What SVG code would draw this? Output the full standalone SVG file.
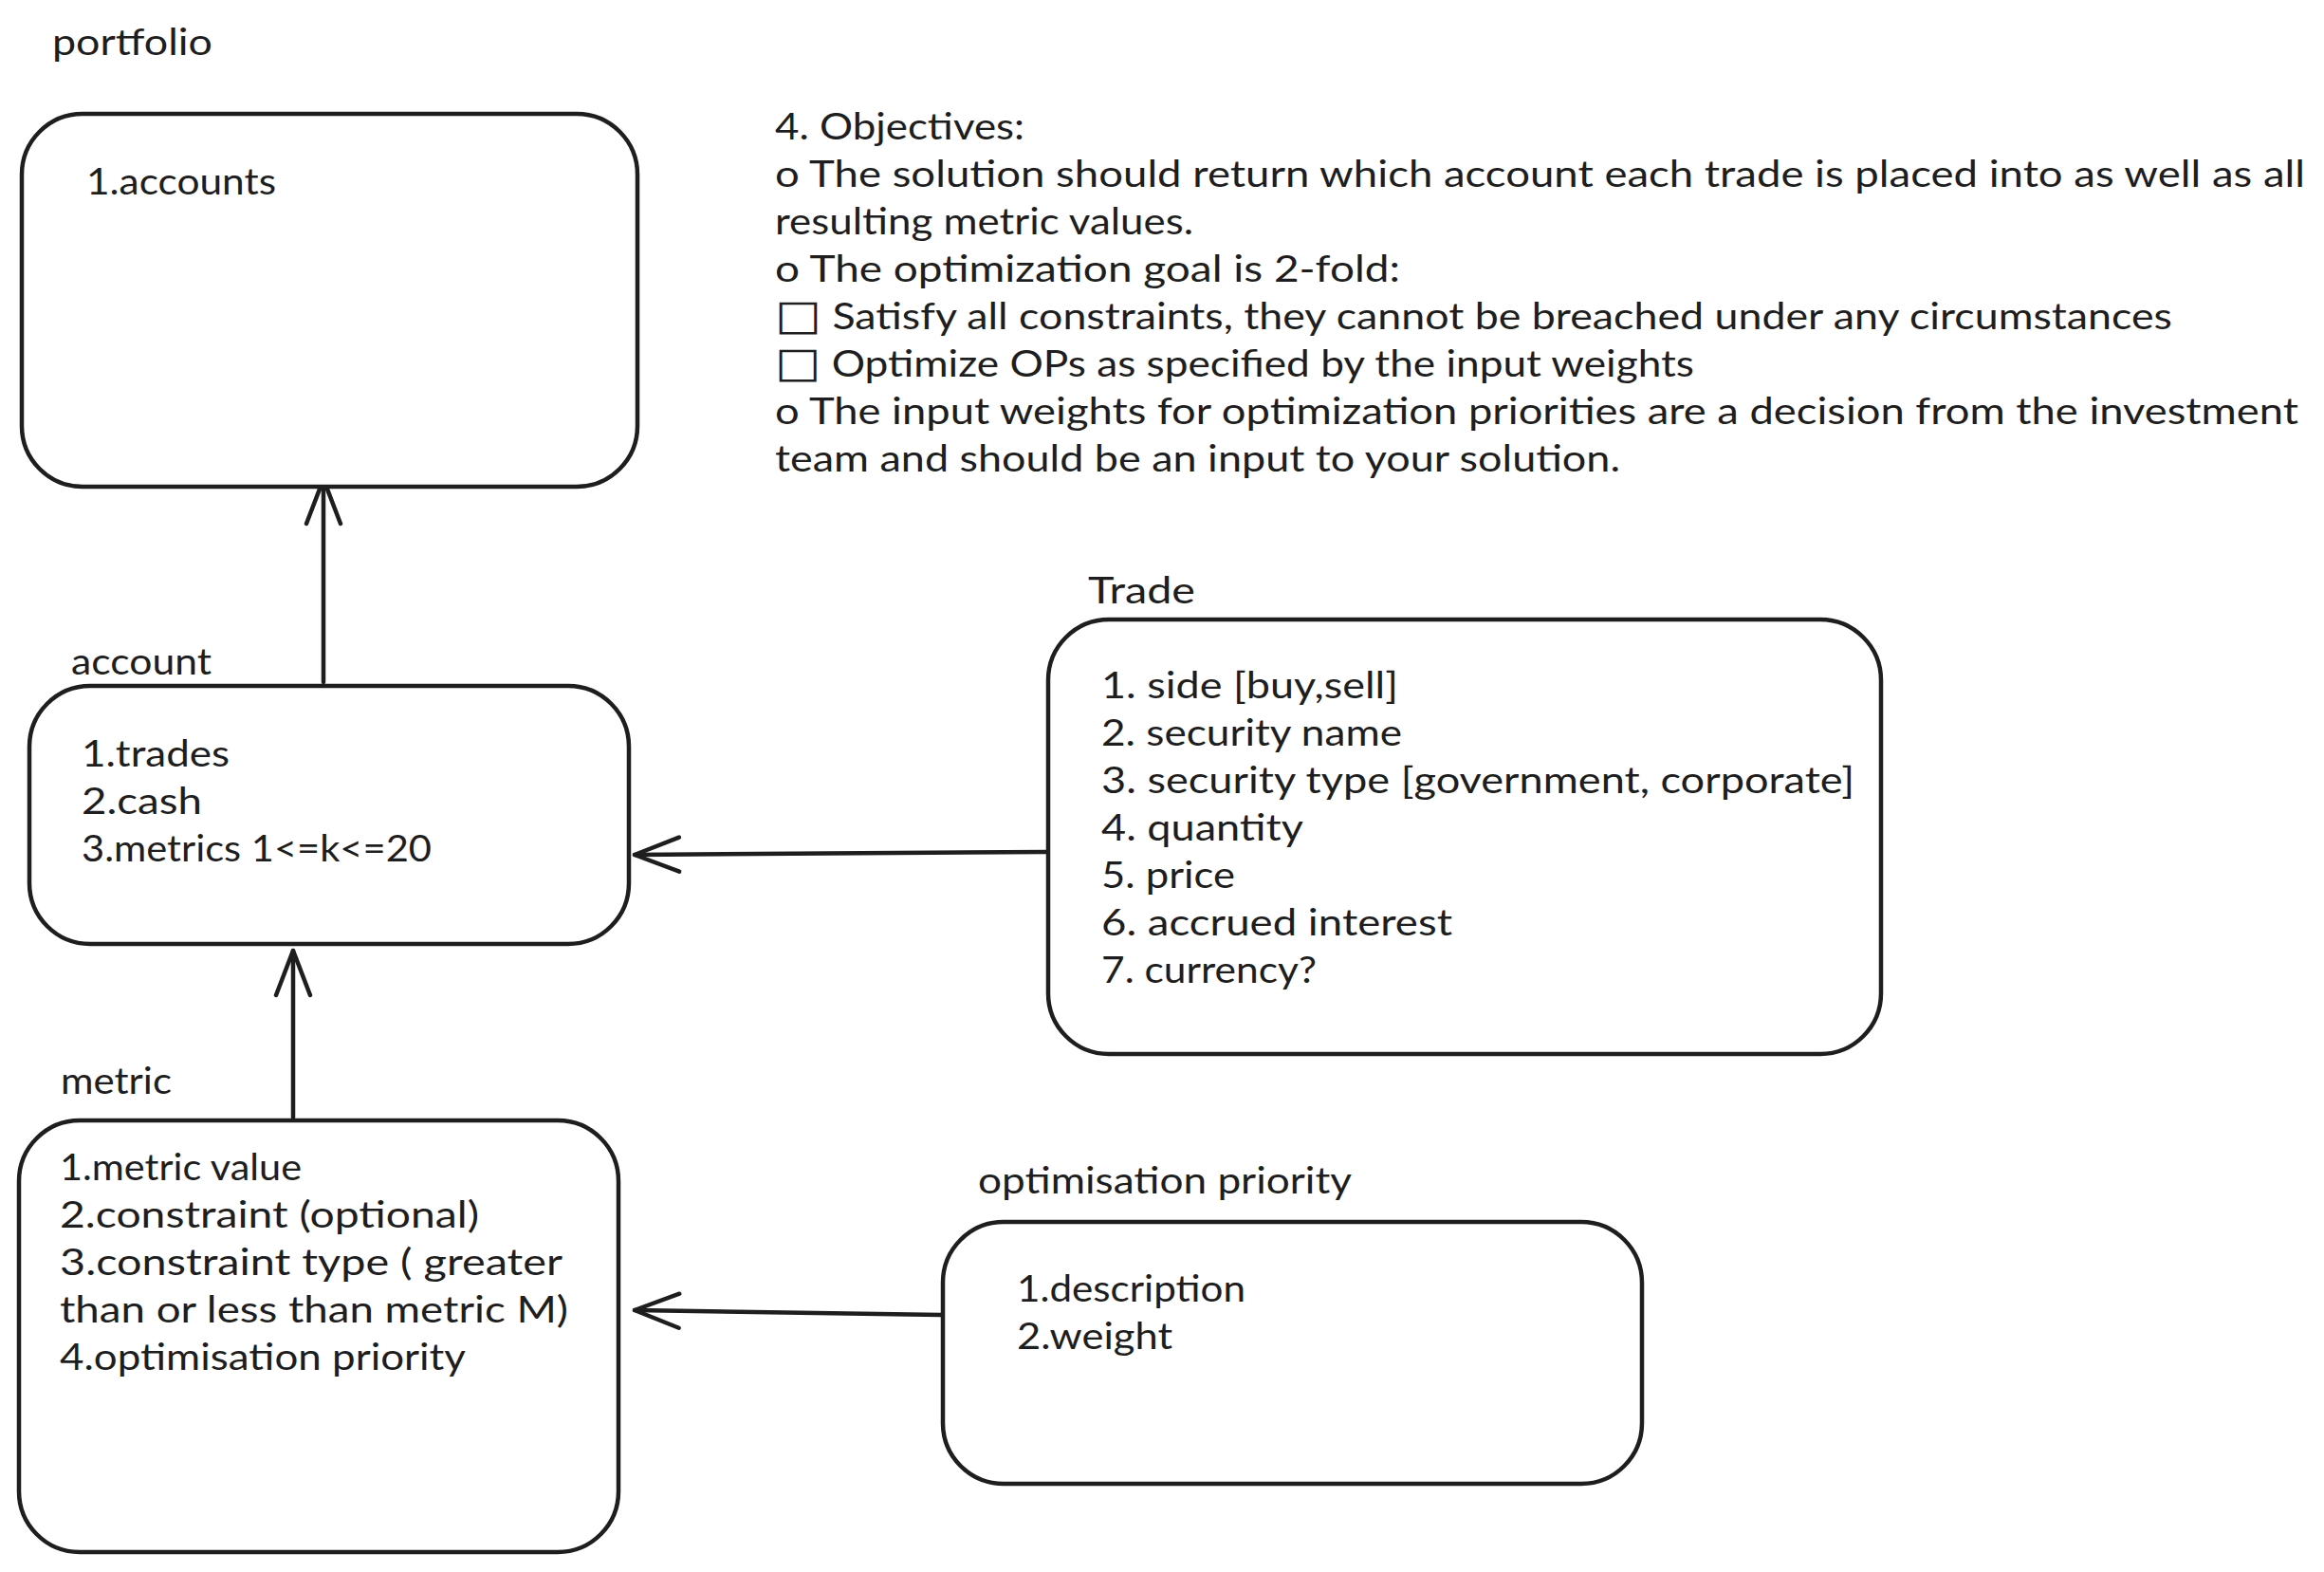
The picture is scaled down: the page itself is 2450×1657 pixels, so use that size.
<svg xmlns="http://www.w3.org/2000/svg" width="2450" height="1657" viewBox="0 0 2450 1657">
  <style>
    .box { fill: #ffffff; stroke: #1e1e1e; stroke-width: 4.5; }
    .t { font-family: "Lato", "Noto Sans", "Liberation Sans", sans-serif; font-size: 38px; fill: #1e1e1e; }
    .sq { font-family: "DejaVu Sans", sans-serif; font-size: 44px; }
    .edge { fill: none; stroke: #1e1e1e; stroke-width: 4.5; stroke-linecap: round; marker-end: url(#open); }
  </style>
  <defs>
    <marker id="open" markerUnits="userSpaceOnUse" orient="auto" refX="0" refY="0" markerWidth="60" markerHeight="60" viewBox="-50 -25 60 50" overflow="visible">
      <path d="M -47 -18 L 0 0 L -47 18" fill="none" stroke="#1e1e1e" stroke-width="4.5" stroke-linecap="round" stroke-linejoin="round"/>
    </marker>
  </defs>
  <rect width="2450" height="1657" fill="#ffffff"/>

  <!-- free-standing notes -->
  <g id="objectives">
    <text class="t" x="817" y="147" textLength="263" lengthAdjust="spacingAndGlyphs">4. Objectives:</text>
    <text class="t" x="817" y="197" textLength="1613" lengthAdjust="spacingAndGlyphs">o The solution should return which account each trade is placed into as well as all</text>
    <text class="t" x="817" y="247" textLength="441" lengthAdjust="spacingAndGlyphs">resulting metric values.</text>
    <text class="t" x="817" y="297" textLength="659" lengthAdjust="spacingAndGlyphs">o The optimization goal is 2-fold:</text>
    <text class="t" x="817" y="347" textLength="1473" lengthAdjust="spacingAndGlyphs"><tspan class="sq">□</tspan> Satisfy all constraints, they cannot be breached under any circumstances</text>
    <text class="t" x="817" y="397" textLength="969" lengthAdjust="spacingAndGlyphs"><tspan class="sq">□</tspan> Optimize OPs as specified by the input weights</text>
    <text class="t" x="817" y="447" textLength="1606" lengthAdjust="spacingAndGlyphs">o The input weights for optimization priorities are a decision from the investment</text>
    <text class="t" x="817" y="497" textLength="891" lengthAdjust="spacingAndGlyphs">team and should be an input to your solution.</text>
  </g>

  <!-- connectors -->
  <g id="connectors">
    <path class="edge" d="M 341 719 L 341 505"/>
    <path class="edge" d="M 1103 898 L 669 901"/>
    <path class="edge" d="M 309 1178 L 309 1002"/>
    <path class="edge" d="M 992 1386 L 669 1381"/>
  </g>

  <!-- entities -->
  <g id="portfolio">
    <text class="t" x="55" y="58" textLength="169" lengthAdjust="spacingAndGlyphs">portfolio</text>
    <rect class="box" x="23" y="120" width="649" height="393" rx="64"/>
    <text class="t" x="91" y="205" textLength="200" lengthAdjust="spacingAndGlyphs">1.accounts</text>
  </g>

  <g id="account">
    <text class="t" x="75" y="711" textLength="148" lengthAdjust="spacingAndGlyphs">account</text>
    <rect class="box" x="31" y="723" width="632" height="272" rx="64"/>
    <text class="t" x="86" y="808" textLength="156" lengthAdjust="spacingAndGlyphs">1.trades</text>
    <text class="t" x="86" y="858" textLength="127" lengthAdjust="spacingAndGlyphs">2.cash</text>
    <text class="t" x="86" y="908" textLength="369" lengthAdjust="spacingAndGlyphs">3.metrics 1&lt;=k&lt;=20</text>
  </g>

  <g id="metric">
    <text class="t" x="64" y="1153" textLength="117" lengthAdjust="spacingAndGlyphs">metric</text>
    <rect class="box" x="20" y="1181" width="632" height="455" rx="64"/>
    <text class="t" x="63" y="1244" textLength="255" lengthAdjust="spacingAndGlyphs">1.metric value</text>
    <text class="t" x="63" y="1294" textLength="442" lengthAdjust="spacingAndGlyphs">2.constraint (optional)</text>
    <text class="t" x="63" y="1344" textLength="530" lengthAdjust="spacingAndGlyphs">3.constraint type ( greater</text>
    <text class="t" x="63" y="1394" textLength="536" lengthAdjust="spacingAndGlyphs">than or less than metric M)</text>
    <text class="t" x="63" y="1444" textLength="428" lengthAdjust="spacingAndGlyphs">4.optimisation priority</text>
  </g>

  <g id="trade">
    <text class="t" x="1147" y="636" textLength="113" lengthAdjust="spacingAndGlyphs">Trade</text>
    <rect class="box" x="1105" y="653" width="878" height="458" rx="64"/>
    <text class="t" x="1161" y="736" textLength="313" lengthAdjust="spacingAndGlyphs">1. side [buy,sell]</text>
    <text class="t" x="1161" y="786" textLength="317" lengthAdjust="spacingAndGlyphs">2. security name</text>
    <text class="t" x="1161" y="836" textLength="794" lengthAdjust="spacingAndGlyphs">3. security type [government, corporate]</text>
    <text class="t" x="1161" y="886" textLength="213" lengthAdjust="spacingAndGlyphs">4. quantity</text>
    <text class="t" x="1161" y="936" textLength="141" lengthAdjust="spacingAndGlyphs">5. price</text>
    <text class="t" x="1161" y="986" textLength="370" lengthAdjust="spacingAndGlyphs">6. accrued interest</text>
    <text class="t" x="1161" y="1036" textLength="227" lengthAdjust="spacingAndGlyphs">7. currency?</text>
  </g>

  <g id="optimisation-priority">
    <text class="t" x="1031" y="1258" textLength="394" lengthAdjust="spacingAndGlyphs">optimisation priority</text>
    <rect class="box" x="994" y="1288" width="737" height="276" rx="64"/>
    <text class="t" x="1072" y="1372" textLength="241" lengthAdjust="spacingAndGlyphs">1.description</text>
    <text class="t" x="1072" y="1422" textLength="164" lengthAdjust="spacingAndGlyphs">2.weight</text>
  </g>
</svg>
